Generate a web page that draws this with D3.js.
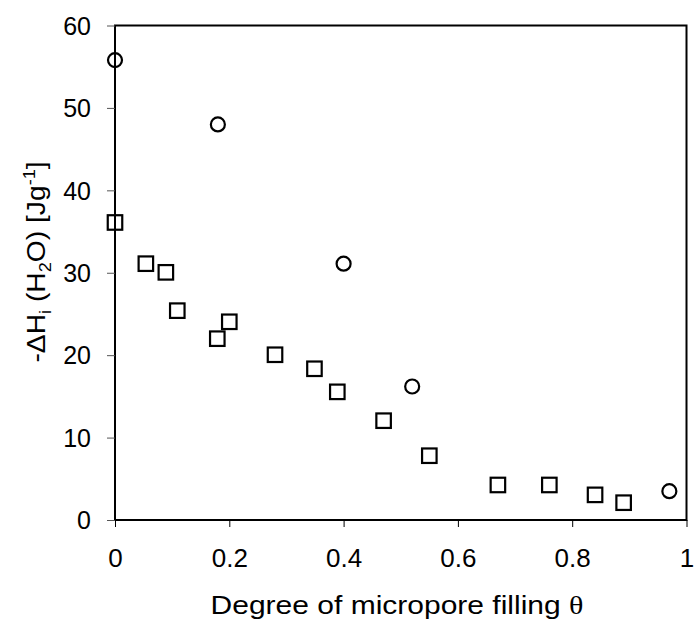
<!DOCTYPE html>
<html>
<head>
<meta charset="utf-8">
<script src="https://cdnjs.cloudflare.com/ajax/libs/d3/7.8.5/d3.min.js"></script>
<style>
  body { margin: 0; background: #fff; }
  text { font-family: 'Liberation Sans', Arial, sans-serif; fill: #000; }
</style>
</head>
<body>
<svg id="chart" width="694" height="628"></svg>
<script>
  // circles series
  var circleTheta = [0, 0.18, 0.40, 0.52, 0.97];
  var circleDH = [55.8, 48, 31.1, 16.2, 3.5];

  // squares series
  var squareTheta = [0, 0.054, 0.089, 0.109, 0.179, 0.2, 0.28, 0.349, 0.389, 0.47, 0.55, 0.67, 0.76, 0.84, 0.89];
  var squareDH = [36.1, 31.1, 30.05, 25.4, 22.0, 24.05, 20.05, 18.35, 15.55, 12.05, 7.8, 4.25, 4.25, 3.05, 2.1];

  var xTicks = [0, 0.2, 0.4, 0.6, 0.8, 1];
  var yTicks = [0, 10, 20, 30, 40, 50, 60];

  var svg = d3.select('#chart');
  var plotL = 115, plotR = 686.5, plotT = 25.5, plotB = 520;

  var x = d3.scaleLinear().domain([0, 1]).range([plotL, plotR]);
  var y = d3.scaleLinear().domain([0, 60]).range([plotB, plotT]);

  // frame
  svg.append('rect')
    .attr('x', plotL).attr('y', plotT)
    .attr('width', plotR - plotL).attr('height', plotB - plotT)
    .attr('fill', 'none').attr('stroke', '#000').attr('stroke-width', 2);

  var yAxis = svg.append('g')
    .attr('transform', 'translate(' + plotL + ',0)')
    .call(d3.axisLeft(y).tickValues(yTicks).tickSize(8).tickPadding(16).tickFormat(d3.format('d')));
  yAxis.select('.domain').remove();
  yAxis.selectAll('text').style('font-size', '25px').attr('font-family', null).attr('dy', '0.35em');
  yAxis.selectAll('line').attr('stroke', '#555');

  var xAxis = svg.append('g')
    .attr('transform', 'translate(0,' + plotB + ')')
    .call(d3.axisBottom(x).tickValues(xTicks).tickSize(7).tickPadding(22).tickFormat(function(d){return d;}));
  xAxis.select('.domain').remove();
  xAxis.selectAll('text').style('font-size', '26px').attr('font-family', null);

  // points
  var circleData = circleTheta.map(function(t, i){ return {t: t, v: circleDH[i]}; });
  var squareData = squareTheta.map(function(t, i){ return {t: t, v: squareDH[i]}; });

  var sq = 14.5;
  svg.selectAll('.sq').data(squareData).enter().append('rect')
    .attr('class', 'sq')
    .attr('x', function(d){ return x(d.t) - sq / 2; })
    .attr('y', function(d){ return y(d.v) - sq / 2; })
    .attr('width', sq).attr('height', sq)
    .attr('fill', 'none').attr('stroke', '#000').attr('stroke-width', 2.2);

  svg.selectAll('.circ').data(circleData).enter().append('circle')
    .attr('class', 'circ')
    .attr('cx', function(d){ return x(d.t); })
    .attr('cy', function(d){ return y(d.v); })
    .attr('r', 7)
    .attr('fill', 'none').attr('stroke', '#000').attr('stroke-width', 2.2);

  // axis titles (reference text runs wider than Arial, so stretch it a bit)
  var xt = svg.append('text')
    .attr('transform', 'translate(397,614) scale(1.2,1)')
    .attr('text-anchor', 'middle').style('font-size', '25px');
  xt.append('tspan').text('Degree of micropore filling ');
  xt.append('tspan').style('font-family', "'Liberation Serif', serif").text('θ');

  var yt = svg.append('text')
    .attr('transform', 'translate(45,262) rotate(-90) scale(1.13,1)')
    .attr('text-anchor', 'middle').style('font-size', '25px');
  yt.append('tspan').text('-ΔH');
  yt.append('tspan').attr('dy', 6).style('font-size', '16px').text('i');
  yt.append('tspan').attr('dy', -6).text(' (H');
  yt.append('tspan').attr('dy', 6).style('font-size', '16px').text('2');
  yt.append('tspan').attr('dy', -6).text('O) [Jg');
  yt.append('tspan').attr('dy', -10).style('font-size', '16px').text('-1');
  yt.append('tspan').attr('dy', 10).text(']');
</script>
</body>
</html>
